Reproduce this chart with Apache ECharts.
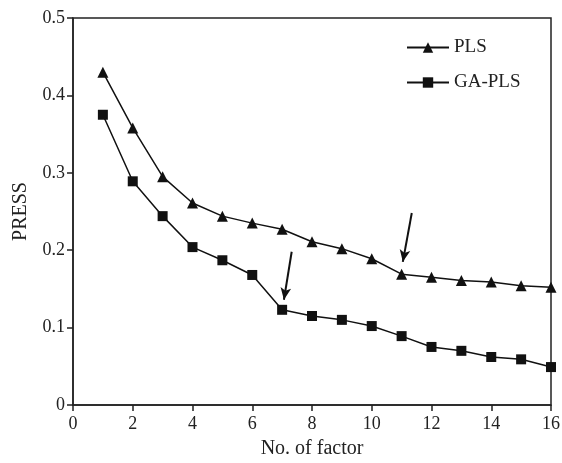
<!DOCTYPE html>
<html><head><meta charset="utf-8">
<script src="https://cdn.jsdelivr.net/npm/echarts@6/dist/echarts.min.js"></script>
<style>html,body{margin:0;padding:0;background:#fff}#c{width:562px;height:463px}</style>
</head><body><div id="c"></div>
<script>
const factors = [1,2,3,4,5,6,7,8,9,10,11,12,13,14,15,16];
const plsValues = [0.430,0.358,0.295,0.261,0.244,0.235,0.227,0.211,0.202,0.189,0.169,0.165,0.161,0.159,0.154,0.152];
const gaPlsValues = [0.375,0.289,0.244,0.204,0.187,0.168,0.123,0.115,0.110,0.102,0.089,0.075,0.070,0.062,0.059,0.049];
const arrowPLS = [[11.34,0.248],[11.04,0.185]];
const arrowGA = [[7.32,0.198],[7.06,0.136]];
const font = '"Liberation Serif","Times New Roman",serif';
const chart = echarts.init(document.getElementById('c'));
const axisCommon = {
  axisLine:{show:true,lineStyle:{color:'#222',width:1.5}},
  axisTick:{show:true,inside:false,length:6,lineStyle:{color:'#222',width:1.5}},
  splitLine:{show:false},
  axisLabel:{color:'#222',fontFamily:font,fontSize:18}
};
function arrowLine(pts){
  return {silent:true,symbol:['none','arrow'],symbolSize:[8,12],
    lineStyle:{color:'#111',width:2,type:'solid'},label:{show:false},
    data:[[{coord:pts[0]},{coord:pts[1]}]]};
}
chart.setOption({
  animation:false,
  grid:{left:73,right:11,top:18,bottom:58,show:true,borderColor:'#222',borderWidth:1.5,
    containLabel:false,outerBoundsMode:'none'},
  legend:{left:401,top:33,orient:'vertical',itemGap:16,itemWidth:42,itemHeight:13,
    textStyle:{fontFamily:font,fontSize:19,color:'#222'},
    data:['PLS','GA-PLS']},
  xAxis:Object.assign({type:'value',min:0,max:16,interval:2,name:'No. of factor',
    nameLocation:'middle',nameGap:34,nameTextStyle:{fontFamily:font,fontSize:20,color:'#222'}},axisCommon,
    {axisLabel:Object.assign({},axisCommon.axisLabel,{margin:10})}),
  yAxis:Object.assign({type:'value',min:0,max:0.5,interval:0.1,name:'PRESS',
    nameLocation:'middle',nameGap:42,nameTextStyle:{fontFamily:font,fontSize:20,color:'#222'}},axisCommon,
    {axisLabel:Object.assign({},axisCommon.axisLabel,{margin:8,formatter:v=>v===0?'0':String(+v.toFixed(1))})}),
  series:[
    {name:'PLS',type:'line',data:factors.map((f,i)=>[f,plsValues[i]]),symbol:'triangle',symbolSize:11,
      lineStyle:{color:'#111',width:1.5},itemStyle:{color:'#111'},markLine:arrowLine(arrowPLS)},
    {name:'GA-PLS',type:'line',data:factors.map((f,i)=>[f,gaPlsValues[i]]),symbol:'rect',symbolSize:10,
      lineStyle:{color:'#111',width:1.5},itemStyle:{color:'#111'},markLine:arrowLine(arrowGA)}
  ]
});
</script></body></html>
